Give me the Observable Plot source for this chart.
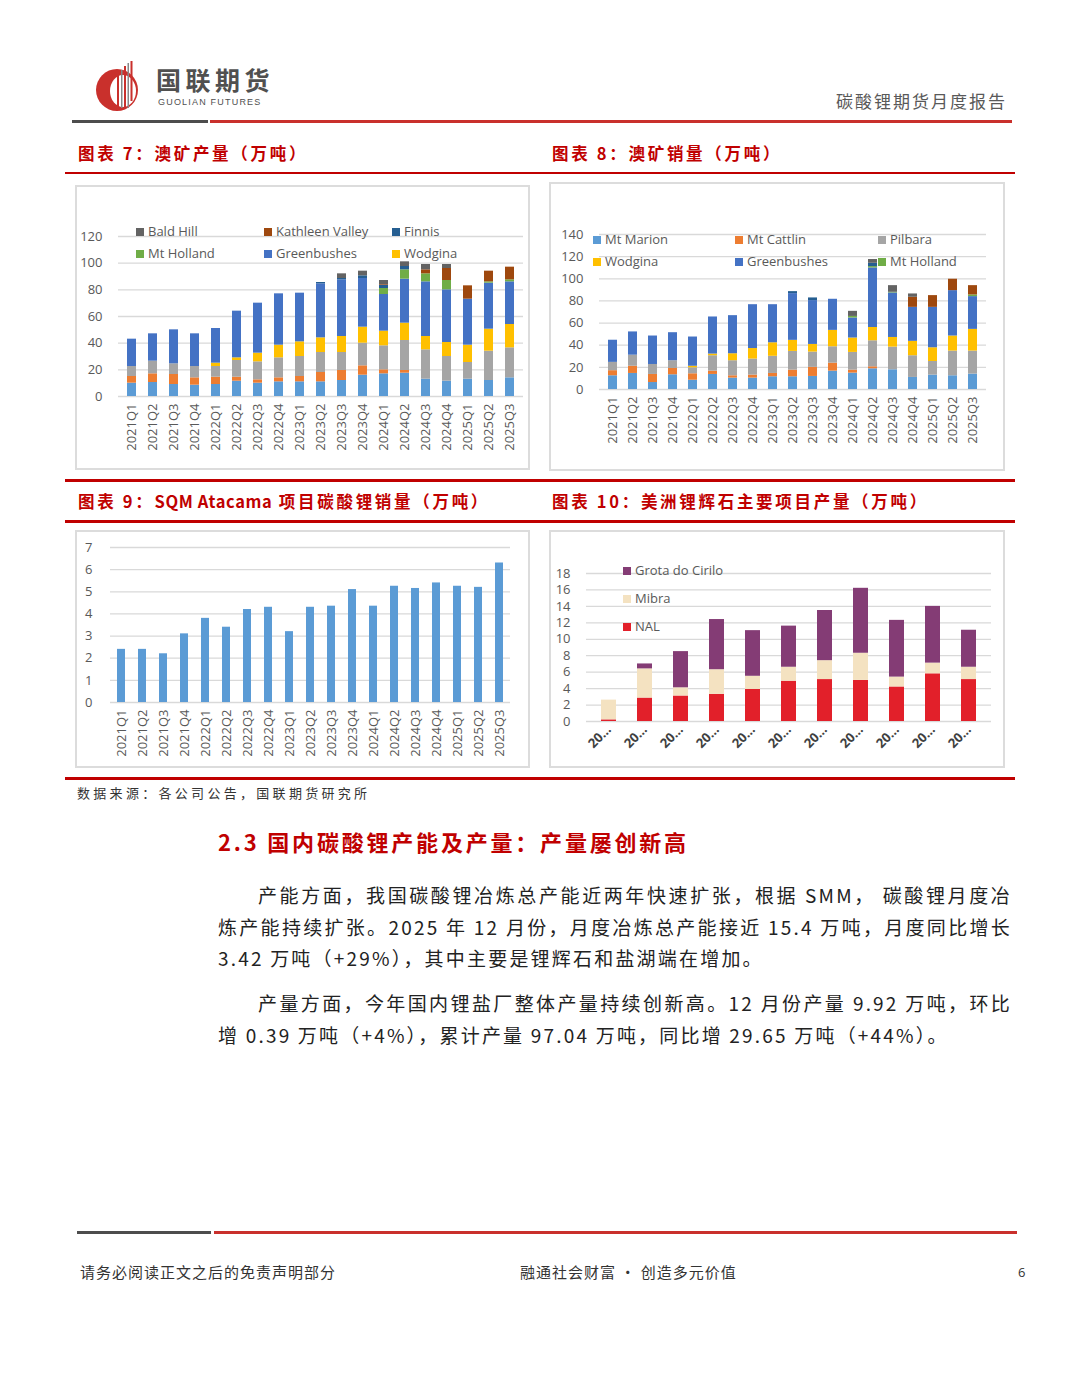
<!DOCTYPE html>
<html lang="zh-CN">
<head>
<meta charset="utf-8">
<script src="https://cdn.jsdelivr.net/npm/d3@7"></script>
<script src="https://cdn.jsdelivr.net/npm/@observablehq/plot@0.6"></script>
<style>
body{margin:0;background:#fff;}
#page{position:relative;width:1080px;height:1373px;background:#fff;font-family:"Noto Sans CJK SC","Noto Sans",sans-serif;overflow:hidden;}
.abs{position:absolute;white-space:nowrap;}
.box{position:absolute;border:2px solid #dcdcdc;box-sizing:border-box;background:#fff;}
.bar{position:absolute;}
.ctitle{position:absolute;color:#c00000;font-weight:bold;font-size:16.5px;letter-spacing:2.7px;line-height:20px;white-space:nowrap;}
.ctitle span{letter-spacing:0.6px;}
.leg{position:absolute;font-family:"Open Sans",sans-serif;font-size:13px;color:#595959;line-height:16px;white-space:nowrap;}
.leg i{display:inline-block;width:8px;height:8px;margin-right:4px;}
.p{position:absolute;font-size:19px;letter-spacing:2.2px;color:#222;line-height:32px;white-space:nowrap;}
.j{text-align:justify;text-align-last:justify;white-space:normal;}
</style>
</head>
<body>
<div id="page"></div>
<script>
// ---------------- DATA ----------------
const quarters = ["2021Q1","2021Q2","2021Q3","2021Q4","2022Q1","2022Q2","2022Q3","2022Q4","2023Q1","2023Q2","2023Q3","2023Q4","2024Q1","2024Q2","2024Q3","2024Q4","2025Q1","2025Q2","2025Q3"];
const mineSeries = ["Mt Marion","Mt Cattlin","Pilbara","Wodgina","Greenbushes","Mt Holland","Finnis","Kathleen Valley","Bald Hill"];
const mineColors = ["#5b9bd5","#ed7d31","#a5a5a5","#ffc000","#4472c4","#70ad47","#255e91","#9e480e","#636363"];

// 图表7 澳矿产量（万吨）
const prodMtMarion   = [10,10.5,9,8.5,9,11.5,10,11,11,11,12,16,17,17.5,13,11.5,13,12,14];
const prodMtCattlin  = [5,6.5,7.5,5.5,5.5,3,2.5,3,4,7,7.5,7,3,2,0,0,0,0,0];
const prodPilbara    = [7.5,9.5,8,8.5,8,12.5,13.5,15,15,15,13.5,17,18,22.5,22,18.5,12.5,22,22.5];
const prodWodgina    = [0,0,0,0,2.5,2,6.5,9.5,11,11,12,12,11,13,10,10.5,13,16.5,17.5];
const prodGreenbush  = [20.5,20.5,25.5,24.5,26,35,37.5,38.5,36.5,40.5,42.5,36.5,27.5,33,41,39.5,34.5,34.5,32];
const prodMtHolland  = [0,0,0,0,0,0,0,0,0,0,0,0,4.5,7,6,7,0,1,1.5];
const prodFinnis     = [0,0,0,0,0,0,0,0,0,1,1,2,2.5,2.5,0,0,0,0,0];
const prodKathleen   = [0,0,0,0,0,0,0,0,0,0,0,0,0.5,0,3,9,10,8,9.5];
const prodBaldHill   = [0,0,0,0,0,0,0,0,0,0,3.5,3.5,3,3.5,4,3,0,0,0];

// 图表8 澳矿销量（万吨）
const salesMtMarion  = [12.4,14.5,6.3,13.3,8.4,13.6,10.3,10.3,11.5,11.5,11.8,16.6,14.8,18.7,17.8,10.9,13,12.4,13.9];
const salesMtCattlin = [4.6,6.5,7.3,5.7,5.8,3,2.1,2.7,3,6,8.2,7.2,2.7,1.8,0,0,0,0,0];
const salesPilbara   = [7.5,10,9,7,5.4,13.9,13.6,14.5,15.5,16.9,13.8,14.8,16,23.5,20.5,19.6,12.3,22.3,20.8];
const salesWodgina   = [0,0,0,0,1.4,1.5,6.3,9.5,12.2,10,6.9,14.8,13,12,8.7,13,12.4,13.6,19.6];
const salesGreenbush = [20,21,25.7,25.3,26.4,33.5,34.4,39.6,34.4,42.2,39.6,28.1,18.1,53.8,40.2,30.7,36.5,41,29.6];
const salesMtHolland = [0,0,0,0,0,0,0,0,0,0,0,0,1.4,1.2,0.6,0,0,0,1.5];
const salesFinnis    = [0,0,0,0,0,0,0,0,0,1.8,2.4,0,0,3,0,0,0,0,0];
const salesKathleen  = [0,0,0,0,0,0,0,0,0,0,0,0,0,0,0,9.1,10.6,10.3,8.4];
const salesBaldHill  = [0,0,0,0,0,0,0,0,0,0,0,0,4.6,3.4,6,3,0,0,0];

// 图表9 SQM Atacama 项目碳酸锂销量（万吨）
const sqmSales = [2.4,2.4,2.2,3.1,3.8,3.4,4.2,4.3,3.2,4.3,4.35,5.1,4.35,5.25,5.15,5.4,5.25,5.2,6.3];

// 图表10 美洲锂辉石主要项目产量（万吨）
const amQuarters = ["2023Q1","2023Q2","2023Q3","2023Q4","2024Q1","2024Q2","2024Q3","2024Q4","2025Q1","2025Q2","2025Q3"];
const amSeries = ["NAL","Mibra","Grota do Cirilo"];
const amColors = ["#e2202a","#f4e2c1","#843c75"];
const amNAL   = [0.2,2.85,3.1,3.3,3.9,4.9,5.1,5.0,4.2,5.8,5.1];
const amMibra = [2.4,3.55,1.0,3.0,1.6,1.7,2.3,3.3,1.2,1.3,1.5];
const amGrota = [0,0.6,4.4,6.1,5.55,5.0,6.1,7.9,6.9,6.9,4.5];

// ---------------- PAGE HELPERS ----------------
const page = document.getElementById("page");
function el(tag, cls, css, html){
  const e = document.createElement(tag);
  if (cls) e.className = cls;
  Object.assign(e.style, css);
  if (html !== undefined) e.innerHTML = html;
  page.appendChild(e);
  return e;
}
function rect(x, y, w, h, color){ el("div","bar",{left:x+"px",top:y+"px",width:w+"px",height:h+"px",background:color}); }

// header logo
el("div","abs",{left:"95px",top:"60px"},`
<svg width="48" height="52" viewBox="0 0 48 52">
  <circle cx="22" cy="30" r="21" fill="#c9302c"/>
  <ellipse cx="28" cy="31" rx="13" ry="16" fill="#fff"/>
  <rect x="22" y="14" width="2" height="34" fill="#c9302c"/>
  <rect x="26" y="10" width="1.5" height="38" fill="#888"/>
  <rect x="29" y="6" width="2" height="42" fill="#c9302c"/>
  <rect x="32.5" y="3" width="1.5" height="45" fill="#888"/>
  <rect x="35.5" y="1" width="2" height="40" fill="#c9302c"/>
</svg>`);
el("div","abs",{left:"156px",top:"67px",fontSize:"25px",fontWeight:"bold",color:"#505050",letterSpacing:"4.5px",lineHeight:"25px"},"国联期货");
el("div","abs",{left:"158px",top:"98px",fontSize:"9px",fontFamily:"'Liberation Sans',Arial,sans-serif",color:"#505050",letterSpacing:"1.2px",lineHeight:"9px"},"GUOLIAN FUTURES");
el("div","abs",{left:"836px",top:"89px",fontSize:"17px",color:"#595959",letterSpacing:"2px",lineHeight:"24px"},"碳酸锂期货月度报告");

// header rule
rect(72,120,136,3,"#4d4d4d");
rect(210,120,802,3,"#c9302c");

// section rules
rect(65,172,950,2,"#c00000");
rect(65,479,950,3,"#c00000");
rect(65,520,950,3,"#c00000");
rect(65,777,950,2.5,"#c00000");

// chart titles
el("div","ctitle",{left:"78px",top:"143px"},"图表 7：澳矿产量（万吨）");
el("div","ctitle",{left:"552px",top:"143px"},"图表 8：澳矿销量（万吨）");
el("div","ctitle",{left:"78px",top:"491px"},"图表 9：<span>SQM Atacama</span> 项目碳酸锂销量（万吨）");
el("div","ctitle",{left:"552px",top:"491px"},"图表 10：美洲锂辉石主要项目产量（万吨）");

// ---------------- CHARTS ----------------
function tidy(cats, names, arrays){
  const rows = [];
  cats.forEach((q,i)=> names.forEach((s,k)=> rows.push({q, s, v: arrays[k][i]})));
  return rows;
}
function place(svg, x, y, w, h){
  el("div","box",{left:x+"px",top:y+"px",width:w+"px",height:h+"px"});
  svg.style.position = "absolute";
  svg.style.left = x+"px";
  svg.style.top = y+"px";
  page.appendChild(svg);
}
function stacked({cats, names, colors, arrays, width, height, mt, mb, ml, mr, ymax, ystep, pad, rot, fmt, tickPad, bold, tickPadY}){
  const ticks = d3.range(0, ymax + 0.001, ystep);
  return Plot.plot({
    width, height, marginTop: mt, marginBottom: mb, marginLeft: ml, marginRight: mr,
    style: {fontFamily: "'Open Sans',sans-serif", fontSize: "13px", color: "#595959", background: "transparent", overflow: "visible"},
    x: {domain: cats, paddingInner: pad, paddingOuter: pad/2, label: null, axis: null},
    y: {domain: [0, ymax], label: null, axis: null},
    color: {domain: names, range: colors},
    marks: [
      Plot.gridY(ticks, {stroke: "#d9d9d9", strokeOpacity: 1, strokeWidth: 1.3}),
      Plot.barY(tidy(cats, names, arrays), {x: "q", y: "v", fill: "s"}),
      Plot.axisY(ticks, {tickSize: 0, tickPadding: tickPadY, label: null}),
      Plot.axisX({tickSize: 0, tickRotate: rot, tickPadding: tickPad, label: null, tickFormat: fmt, fontWeight: bold ? "bold" : "normal", fill: bold ? "#404040" : "#595959"})
    ]
  });
}

// chart 7
place(stacked({cats: quarters, names: mineSeries, colors: mineColors,
  arrays: [prodMtMarion,prodMtCattlin,prodPilbara,prodWodgina,prodGreenbush,prodMtHolland,prodFinnis,prodKathleen,prodBaldHill],
  width: 455, height: 285, mt: 51, mb: 74, ml: 43, mr: 7, ymax: 120, ystep: 20, pad: 0.55, rot: -90, tickPad: 7, tickPadY: 16}), 75, 185, 455, 285);

// chart 8
place(stacked({cats: quarters, names: mineSeries, colors: mineColors,
  arrays: [salesMtMarion,salesMtCattlin,salesPilbara,salesWodgina,salesGreenbush,salesMtHolland,salesFinnis,salesKathleen,salesBaldHill],
  width: 456, height: 289, mt: 52, mb: 82, ml: 50, mr: 19, ymax: 140, ystep: 20, pad: 0.55, rot: -90, tickPad: 7, tickPadY: 16}), 549, 182, 456, 289);

// chart 9
const c9 = Plot.plot({
  width: 455, height: 238, marginTop: 17, marginBottom: 66, marginLeft: 35, marginRight: 20,
  style: {fontFamily: "'Open Sans',sans-serif", fontSize: "13px", color: "#595959", background: "transparent", overflow: "visible"},
  x: {domain: quarters, paddingInner: 0.62, paddingOuter: 0.31, label: null, axis: null},
  y: {domain: [0, 7], label: null, axis: null},
  marks: [
    Plot.gridY(d3.range(0, 8), {stroke: "#d9d9d9", strokeOpacity: 1, strokeWidth: 1.3}),
    Plot.barY(quarters.map((q,i)=>({q, v: sqmSales[i]})), {x: "q", y: "v", fill: "#5b9bd5"}),
    Plot.axisY(d3.range(0, 8), {tickSize: 0, tickPadding: 18, label: null}),
    Plot.axisX({tickSize: 0, tickRotate: -90, tickPadding: 7, label: null})
  ]
});
place(c9, 75, 530, 455, 238);

// chart 10
place(stacked({cats: amQuarters, names: amSeries, colors: amColors,
  arrays: [amNAL, amMibra, amGrota],
  width: 456, height: 238, mt: 43, mb: 47, ml: 37, mr: 14, ymax: 18, ystep: 2, pad: 0.58, rot: -45, tickPad: 6, tickPadY: 16,
  fmt: () => "20…", bold: true}), 549, 530, 456, 238);

// legends
function legend(items, names, colors){
  items.forEach(([name, x, cy]) => {
    const c = colors[names.indexOf(name)];
    el("div","leg",{left:x+"px",top:(cy-8)+"px"},`<i style="background:${c}"></i>${name}`);
  });
}
legend([["Bald Hill",136,231],["Kathleen Valley",264,231],["Finnis",392,231],
        ["Mt Holland",136,253],["Greenbushes",264,253],["Wodgina",392,253]], mineSeries, mineColors);
legend([["Mt Marion",593,239],["Mt Cattlin",735,239],["Pilbara",878,239],
        ["Wodgina",593,261],["Greenbushes",735,261],["Mt Holland",878,261]], mineSeries, mineColors);
legend([["Grota do Cirilo",623,570],["Mibra",623,598],["NAL",623,626]], amSeries, amColors);

// source
el("div","abs",{left:"77px",top:"784px",fontSize:"13px",letterSpacing:"3.3px",color:"#333",lineHeight:"18px"},"数据来源：各公司公告，国联期货研究所");

// section heading
el("div","abs",{left:"218px",top:"826px",fontSize:"22px",fontWeight:"bold",color:"#c00000",letterSpacing:"2.8px",lineHeight:"30px"},"2.3 国内碳酸锂产能及产量：产量屡创新高");

// paragraphs
el("div","p j",{left:"258px",top:"879px",width:"754px"},"产能方面，我国碳酸锂冶炼总产能近两年快速扩张，根据 SMM， 碳酸锂月度冶");
el("div","p j",{left:"218px",top:"911px",width:"794px"},"炼产能持续扩张。2025 年 12 月份，月度冶炼总产能接近 15.4 万吨，月度同比增长");
el("div","p",{left:"218px",top:"942px"},"3.42 万吨（+29%），其中主要是锂辉石和盐湖端在增加。");
el("div","p j",{left:"258px",top:"987px",width:"754px"},"产量方面，今年国内锂盐厂整体产量持续创新高。12 月份产量 9.92 万吨，环比");
el("div","p",{left:"218px",top:"1019px"},"增 0.39 万吨（+4%），累计产量 97.04 万吨，同比增 29.65 万吨（+44%）。");

// footer
rect(77,1231,134,3,"#4d4d4d");
rect(214,1231,803,3,"#c9302c");
el("div","abs",{left:"80px",top:"1262px",fontSize:"15px",color:"#333",letterSpacing:"1px",lineHeight:"20px"},"请务必阅读正文之后的免责声明部分");
el("div","abs",{left:"520px",top:"1262px",fontSize:"15px",color:"#333",letterSpacing:"1px",lineHeight:"20px"},"融通社会财富 · 创造多元价值");
el("div","abs",{left:"1018px",top:"1262px",fontSize:"13px",color:"#333",lineHeight:"20px",fontFamily:"'Open Sans',sans-serif"},"6");
</script>
</body>
</html>
